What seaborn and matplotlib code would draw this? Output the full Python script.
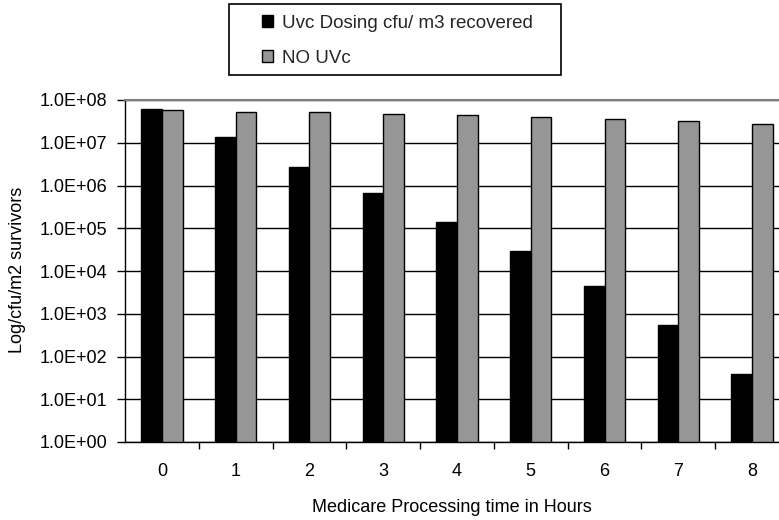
import numpy as np
import pandas as pd
import matplotlib
matplotlib.use("Agg")
import matplotlib.pyplot as plt
import matplotlib.ticker as mticker
from matplotlib.patches import Rectangle
import seaborn as sns

hours = ["0", "1", "2", "3", "4", "5", "6", "7", "8"]
uvc_dosing = [6.3e7, 1.36e7, 2.7e6, 6.7e5, 1.4e5, 3.0e4, 4.4e3, 5.6e2, 40]
no_uvc = [5.7e7, 5.3e7, 5.3e7, 4.6e7, 4.4e7, 4.1e7, 3.5e7, 3.2e7, 2.7e7]
series_names = ["Uvc Dosing cfu/ m3 recovered", "NO UVc"]
ytick_vals = [1e0, 1e1, 1e2, 1e3, 1e4, 1e5, 1e6, 1e7, 1e8]

df = pd.DataFrame({
    "hour": hours * 2,
    "value": uvc_dosing + no_uvc,
    "series": [series_names[0]] * len(hours) + [series_names[1]] * len(hours),
})

sns.set_theme(style="white")
plt.rcParams["font.family"] = ["Liberation Sans", "DejaVu Sans"]
FS = 13

fig = plt.figure(figsize=(7.79, 5.2), dpi=100)
ax = fig.add_axes([125 / 779, 78 / 520, 664 / 779, 342 / 520])

sns.barplot(data=df, x="hour", y="value", hue="series", order=hours,
            hue_order=series_names,
            palette={series_names[0]: "black", series_names[1]: "#969696"},
            edgecolor="black", linewidth=1.0, width=0.56,
            ax=ax, legend=True)

handles = ax.get_legend().legend_handles
ax.get_legend().remove()

ax.set_yscale("log")
ax.set_ylim(1, 1e8)
ax.set_xlim(-0.5, len(hours) - 0.5)
ax.yaxis.set_major_locator(mticker.FixedLocator(ytick_vals))
ax.yaxis.set_minor_locator(mticker.NullLocator())
ax.yaxis.set_major_formatter(mticker.FuncFormatter(lambda v, p: f"{v:.1E}"))

n = len(hours)
ax.set_xticks([i + 0.5 for i in range(n - 1)] + [n - 0.5])
ax.set_xticklabels([""] * n)
ax.set_xticks(range(n), minor=True)
ax.set_xticklabels(hours, minor=True)
ax.tick_params(axis="x", which="major", direction="out", length=5, width=1,
               color="black", bottom=True)
ax.tick_params(axis="x", which="minor", length=0, pad=15, labelsize=FS,
               labelcolor="black", bottom=True)
ax.tick_params(axis="y", which="major", direction="out", length=6, width=1,
               color="black", pad=7, labelsize=FS, labelcolor="black", left=True)

ax.set_axisbelow(True)
ax.yaxis.grid(True, color="black", linewidth=1.0)
ax.xaxis.grid(False)
for s in ["left", "bottom"]:
    ax.spines[s].set_color("black")
    ax.spines[s].set_linewidth(1.0)
ax.spines["top"].set_color("#808080")
ax.spines["top"].set_linewidth(1.5)
ax.spines["top"].set_zorder(5)
ax.spines["right"].set_visible(False)

ax.set_xlabel("Medicare Processing time in Hours", fontsize=FS, color="black")
ax.set_ylabel("Log/cfu/m2 survivors", fontsize=FS, color="black")
ax.xaxis.set_label_coords((452 - 125) / 664, (442 - 508) / 342)
ax.xaxis.label.set_va("center")
ax.yaxis.set_label_coords((17.5 - 125) / 664, (442 - 270) / 342)
ax.yaxis.label.set_va("center")

leg = fig.legend(handles=handles, labels=series_names, loc="upper left",
                 bbox_to_anchor=(247 / 779, 1 - 0 / 520), frameon=False,
                 fontsize=13.5, handlelength=0.6, handleheight=0.6,
                 handletextpad=0.45, labelspacing=0.95, borderpad=0.3)
fig.patches.append(Rectangle((229 / 779, 1 - 75 / 520), (561 - 229) / 779,
                             (75 - 4) / 520, transform=fig.transFigure,
                             facecolor="none", edgecolor="black", linewidth=1.2))

fig.savefig("out.png", dpi=100)
